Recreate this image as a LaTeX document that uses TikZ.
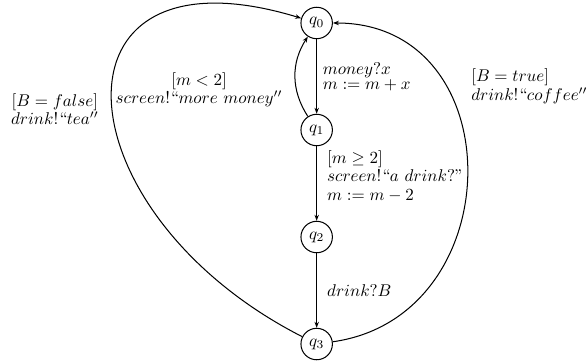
\documentclass[tikz,border=0pt]{standalone}
\usepackage{amsmath,amssymb}
\usetikzlibrary{positioning,arrows.meta}

\tikzset{
  qstate/.style={draw,circle,semithick,minimum size=0.65cm,inner sep=0pt},
  trans/.style={semithick,-{Stealth[length=3.5pt,width=2.6pt]}},
  lbl/.style={font={\fontsize{10}{10}\selectfont}},
}

\begin{document}
\begin{tikzpicture}
  \useasboundingbox (-6.543,0.475) rectangle (5.585,-7.004);
  % states
  \node[qstate] (q0) at (0,0) {$q_0$};
  \node[qstate,below=1.54cm of q0] (q1) {$q_1$};
  \node[qstate,below=1.54cm of q1] (q2) {$q_2$};
  \node[qstate,below=1.54cm of q2] (q3) {$q_3$};
  % transitions
  \draw[trans] (q0) -- (q1)
    node[midway,right,lbl,align=left] {$money?x$\\[-1.3pt]$m := m + x$};
  \draw[trans] (q1) -- (q2)
    node[pos=0.4,right,lbl,align=left,xshift=0.09cm] {$[m \geq 2]$\\[0.5pt]$screen!``a\ drink?"$\\[1pt]$m := m - 2$};
  \draw[trans] (q2) -- (q3)
    node[midway,right,lbl,xshift=0.09cm] {$drink?B$};
  \draw[trans] (q1) to[bend left=33] (q0);
  \draw[trans] (q3) to[out=153,in=163,looseness=2.2] (q0);
  \draw[trans] (q3) to[out=8,in=0,looseness=1.45] (q0);
  % guards and actions
  \node[lbl,align=center] (lmore) at (-2.43,-1.38) {$[m < 2]$\\$screen!``more\ money''$};
  \node[lbl,align=center] (ltea) at (-5.41,-1.78) {$[B = false]$\\$drink!``tea''$};
  \node[lbl,align=left,anchor=west] (lcoffee) at (3.07,-1.31) {$[B = true]$\\$drink!``coffee''$};
\end{tikzpicture}
\end{document}
